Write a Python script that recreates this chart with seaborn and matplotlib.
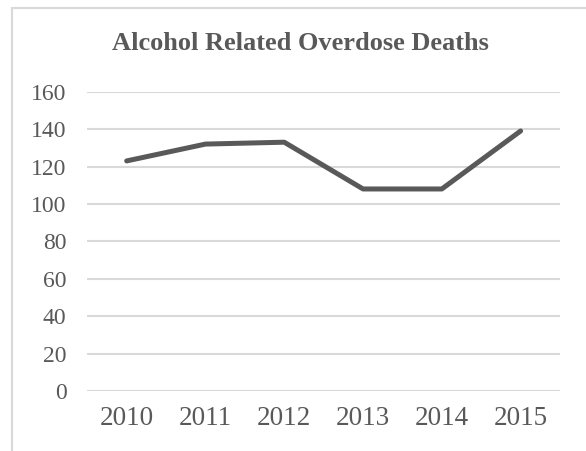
import matplotlib
matplotlib.use("Agg")
import matplotlib.pyplot as plt
import seaborn as sns
import pandas as pd
from matplotlib.patches import Rectangle

years = ["2010", "2011", "2012", "2013", "2014", "2015"]
deaths = [123, 132, 133, 108, 108, 139]
y_ticks = [0, 20, 40, 60, 80, 100, 120, 140, 160]
title = "Alcohol Related Overdose Deaths"

sns.set_theme(style="white")
plt.rcParams["font.family"] = ["Liberation Serif", "DejaVu Serif"]

W, H = 586, 451
fig = plt.figure(figsize=(W / 100, H / 100), dpi=100)
ax = fig.add_axes([87.3 / W, 1 - 391 / H, (560 - 87.3) / W, (391 - 91.7) / H])

df = pd.DataFrame({"year": years, "deaths": deaths})
df["pos"] = range(len(years))
sns.lineplot(data=df, x="pos", y="deaths", ax=ax, color="#595959",
             linewidth=3.6, solid_capstyle="round", solid_joinstyle="round")

ax.set_xlim(-0.5, len(years) - 0.5)
ax.set_ylim(0, 160)
ax.set_yticks(y_ticks)
ax.set_yticklabels([str(v) for v in y_ticks])
ax.set_xticks(range(len(years)))
ax.set_xticklabels(years)
ax.yaxis.grid(True, color="#d9d9d9", linewidth=1.5)
ax.xaxis.grid(False)
ax.set_axisbelow(True)
for s in ax.spines.values():
    s.set_visible(False)
ax.tick_params(axis="y", length=0, pad=15, labelsize=17, labelcolor="#595959")
ax.tick_params(axis="x", length=0, pad=11, labelsize=19.5, labelcolor="#595959")
ax.set_xlabel("")
ax.set_ylabel("")

fig.text(300.4 / W, 1 - 43.5 / H, title, ha="center", va="center",
         fontsize=19, fontweight="bold", color="#595959")

fig.patches.append(Rectangle((12 / W, -0.1), 1.2, 1 - 8 / H + 0.1,
                             transform=fig.transFigure, fill=False,
                             edgecolor="#d9d9d9", linewidth=1.5))

fig.savefig("out.png", dpi=100)
